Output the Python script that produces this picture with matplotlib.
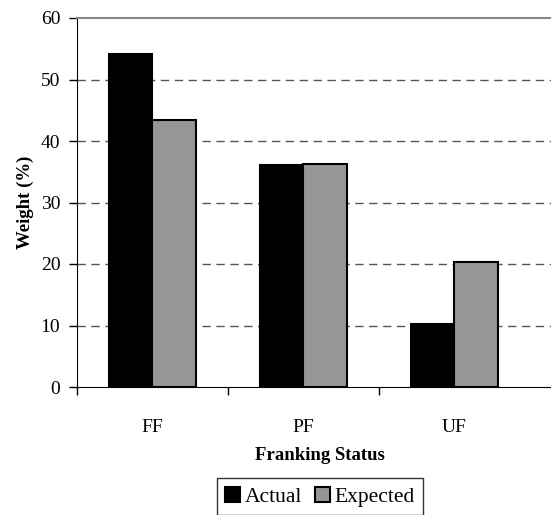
import matplotlib.pyplot as plt
import numpy as np
from matplotlib.ticker import FixedLocator, NullFormatter

categories = ["FF", "PF", "UF"]
actual = [54.1, 36.1, 10.2]
expected = [43.4, 36.3, 20.4]

plt.rcParams['font.family'] = ['Liberation Serif', 'DejaVu Serif']

fig = plt.figure(figsize=(5.51, 5.15), dpi=100)
ax = fig.add_axes([77 / 551, 1 - 387 / 515, 1 - 77 / 551, (387 - 18) / 515])

x = np.arange(len(categories))
w = 0.29
ax.bar(x - w / 2, actual, w, color="black", edgecolor="black", linewidth=1.5,
       label="Actual", zorder=3)
ax.bar(x + w / 2, expected, w, color="#969696", edgecolor="black", linewidth=1.5,
       label="Expected", zorder=3)

ax.set_xlim(-0.5, 2.64)
ax.set_ylim(0, 60)
ax.set_yticks(range(0, 61, 10))

# dashed grid lines, drawn behind the bars
for y in range(10, 60, 10):
    ax.axhline(y, color="#555555", linestyle=(0, (6, 4)), linewidth=1, zorder=1)

# ticks sit between categories, labels centred under the groups
ax.xaxis.set_major_locator(FixedLocator([-0.5, 0.5, 1.5]))
ax.xaxis.set_major_formatter(NullFormatter())
ax.xaxis.set_minor_locator(FixedLocator(list(x)))
ax.set_xticklabels(categories, minor=True)
ax.tick_params(axis="x", which="major", direction="out", length=6, width=1, color="black")
ax.tick_params(axis="x", which="minor", length=0, pad=23, labelsize=14)
ax.tick_params(axis="y", direction="out", length=6, width=1, pad=6, labelsize=14)

ax.spines["right"].set_visible(False)
ax.spines["top"].set_color("#888888")
ax.spines["top"].set_linewidth(1.5)
ax.spines["left"].set_color("black")
ax.spines["bottom"].set_color("black")

ax.set_ylabel("Weight (%)", fontsize=13.5, fontweight="bold")
ax.yaxis.set_label_coords(-(77 - 25) / 474, 0.5)
ax.set_xlabel("Franking Status", fontsize=13.5, fontweight="bold")
ax.xaxis.set_label_coords((320 - 77) / 474, -(455 - 387) / 369)
ax.xaxis.label.set_va("center")
ax.yaxis.label.set_va("center")

leg = fig.legend(loc="upper center", bbox_to_anchor=(320 / 551, 1 - 478 / 515), ncol=2,
                 fontsize=15.5, frameon=True, fancybox=False, edgecolor="black",
                 handlelength=0.7, handleheight=0.7, handletextpad=0.2, columnspacing=0.6,
                 borderpad=0.4, borderaxespad=0)
leg.get_frame().set_linewidth(1)

fig.savefig("out.png", dpi=100)
